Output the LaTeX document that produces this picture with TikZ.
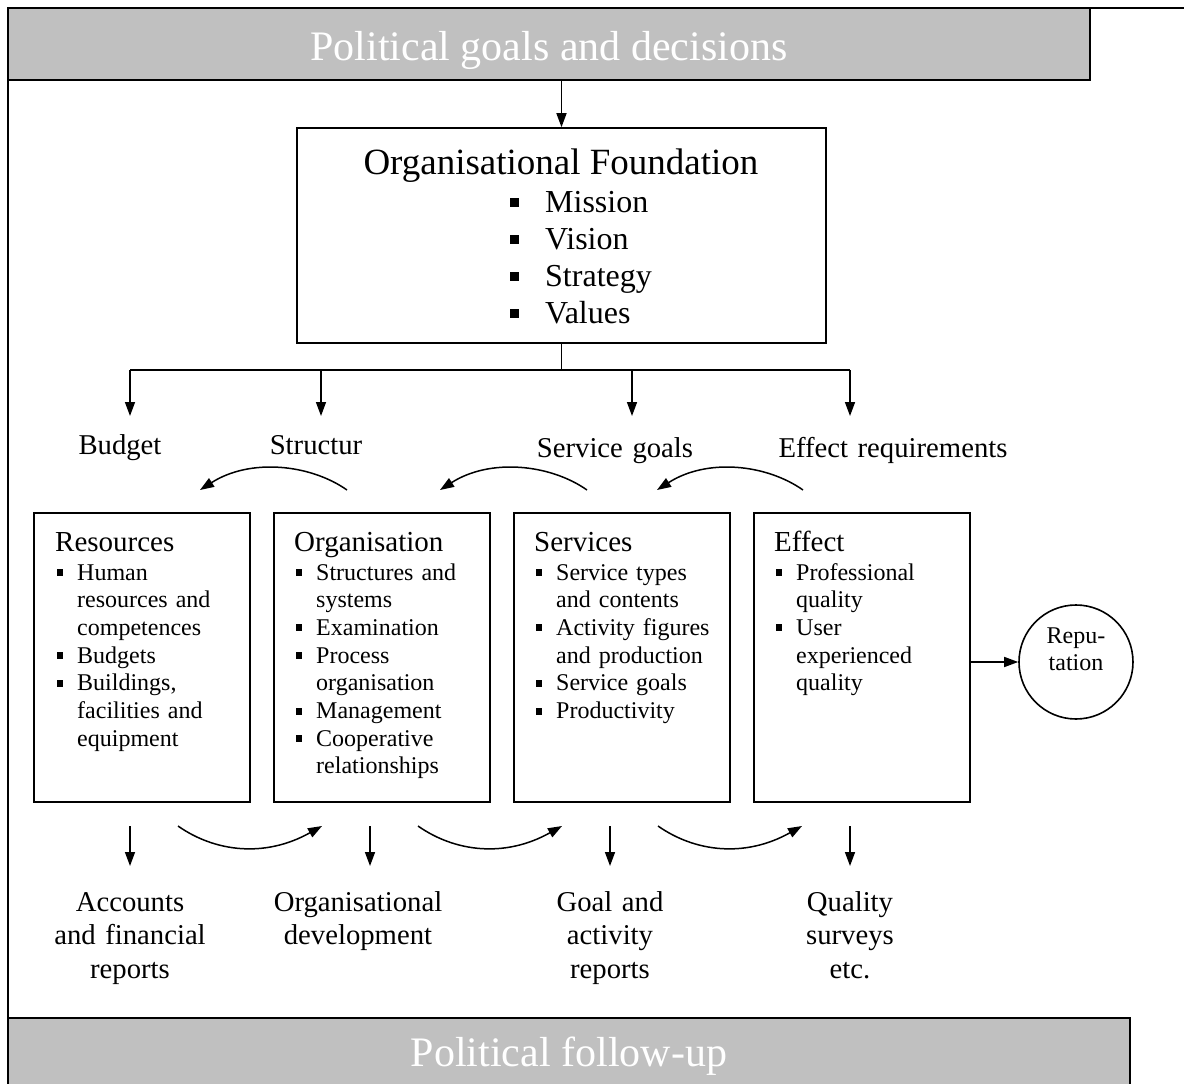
\documentclass[tikz,border=0pt]{standalone}
\usepackage{fontspec}
\setmainfont{Liberation Serif}
\usetikzlibrary{arrows.meta}
\definecolor{bannergray}{RGB}{192,192,192}
\newcommand{\bigbul}{\makebox[35pt][l]{\rule[4.7pt]{8.5pt}{9pt}}}
\newcommand{\smallbul}{\makebox[22pt][l]{\hspace{1.5pt}\rule[4pt]{6.5pt}{7pt}}}
\newcommand{\subind}{\hspace*{22pt}}
\newcommand{\boxhead}[1]{{\fontsize{29}{34}\selectfont #1}\\[1.3pt]}

\begin{document}
\begin{tikzpicture}[x=1pt, y=-1pt,
  banner/.style={draw=black, line width=1.6pt, fill=bannergray, text=white, font=\fontsize{42}{50}\selectfont},
  box/.style={draw=black, line width=1.6pt, minimum width=216pt, minimum height=289pt, inner sep=0pt},
  boxtext/.style={anchor=base west, text width=200pt, align=left, inner sep=0pt, font=\fontsize{24}{27.7}\selectfont},
  lbl/.style={anchor=base, text width=320pt, align=center, inner sep=0pt, font=\fontsize{28.7}{33.5}\selectfont},
  line/.style={line width=1.5pt},
  arr/.style={line width=1.5pt, -{Triangle[length=14pt,width=10pt]}}
]
  \useasboundingbox (0,0) rectangle (1184,1084);
  \clip (0,0) rectangle (1184,1084);

  % political banners and frame
  \node[banner, minimum width=1082pt, minimum height=72pt, text height=37pt, text depth=5pt] (goals) at (549,44) {Political goals and decisions};
  \node[banner, anchor=north, minimum width=1122pt, minimum height=76pt] (followup) at (569,1017) {Political follow-up};
  \draw[line width=2pt] (1184,8) -- (8,8) -- (8,1084);

  % organisational foundation
  \node[draw, line width=1.6pt, minimum width=529pt, minimum height=215pt] (found) at (561.5,235.5) {};
  \node[anchor=base, inner sep=0pt, font=\fontsize{37}{44}\selectfont] (foundtitle) at (561,174) {Organisational Foundation};
  \node[anchor=base west, text width=200pt, align=left, inner sep=0pt, font=\fontsize{32}{37}\selectfont] (foundlist) at (510,212)
    {\bigbul Mission\\ \bigbul Vision\\ \bigbul Strategy\\ \bigbul Values};
  \draw[arr] (found.north |- goals.south) -- (found.north);

  % branches to the four requirements
  \draw[line] (found.south) -- ++(0,27) coordinate (split);
  \coordinate (t1) at (130,370);
  \coordinate (t2) at (321,370);
  \coordinate (t3) at (632,370);
  \coordinate (t4) at (850,370);
  \draw[line] (t1) -- (t4);
  \draw[arr] (t1) -- ++(0,46);
  \draw[arr] (t2) -- ++(0,46);
  \draw[arr] (t3) -- ++(0,46);
  \draw[arr] (t4) -- ++(0,46);
  \node[lbl] (budget) at (120,454) {Budget};
  \node[lbl] (structur) at (316,454) {Structur};
  \node[lbl] (servgoals) at (615,457) {Service goals};
  \node[lbl] (effreq) at (893,457) {Effect requirements};

  % the four boxes
  \node[box] (res) at (142,657.5) {};
  \node[box] (org) at (382,657.5) {};
  \node[box] (serv) at (622,657.5) {};
  \node[box] (eff) at (862,657.5) {};
  \node[boxtext] (restext) at (55,551) {\boxhead{Resources}
    \smallbul Human\\ \subind resources and\\ \subind competences\\ \smallbul Budgets\\
    \smallbul Buildings,\\ \subind facilities and\\ \subind equipment};
  \node[boxtext] (orgtext) at (294,551) {\boxhead{Organisation}
    \smallbul Structures and\\ \subind systems\\ \smallbul Examination\\ \smallbul Process\\
    \subind organisation\\ \smallbul Management\\ \smallbul Cooperative\\ \subind relationships};
  \node[boxtext] (servtext) at (534,551) {\boxhead{Services}
    \smallbul Service types\\ \subind and contents\\ \smallbul Activity figures\\
    \subind and production\\ \smallbul Service goals\\ \smallbul Productivity};
  \node[boxtext] (efftext) at (774,551) {\boxhead{Effect}
    \smallbul Professional\\ \subind quality\\ \smallbul User\\ \subind experienced\\ \subind quality};

  % reputation
  \node[circle, draw, line width=1.6pt, minimum size=114pt] (rep) at (1076,662) {};
  \node[anchor=base, text width=100pt, align=center, inner sep=0pt, font=\fontsize{24}{27}\selectfont] (reptext) at (1076,643) {Repu-\\tation};
  \draw[arr] (eff.east |- rep.west) -- (rep.west);

  % feedback curves above the boxes
  \coordinate (ua1) at (347,490);
  \coordinate (ub1) at (200,490);
  \coordinate (ua2) at (587,490);
  \coordinate (ub2) at (440,490);
  \coordinate (ua3) at (803,490);
  \coordinate (ub3) at (657,490);
  \draw[arr] (ua1) .. controls (310,464) and (250,458) .. (ub1);
  \draw[arr] (ua2) .. controls (550,464) and (490,458) .. (ub2);
  \draw[arr] (ua3) .. controls (766,464) and (707,458) .. (ub3);

  % curves below the boxes
  \coordinate (la1) at (178,826);
  \coordinate (lb1) at (322,826);
  \coordinate (la2) at (418,826);
  \coordinate (lb2) at (562,826);
  \coordinate (la3) at (658,826);
  \coordinate (lb3) at (802,826);
  \draw[arr] (la1) .. controls (215,852) and (265,858) .. (lb1);
  \draw[arr] (la2) .. controls (455,852) and (505,858) .. (lb2);
  \draw[arr] (la3) .. controls (695,852) and (745,858) .. (lb3);

  % reports
  \coordinate (d1) at (130,826);
  \coordinate (d2) at (370,826);
  \coordinate (d3) at (610,826);
  \coordinate (d4) at (850,826);
  \draw[arr] (d1) -- ++(0,40);
  \draw[arr] (d2) -- ++(0,40);
  \draw[arr] (d3) -- ++(0,40);
  \draw[arr] (d4) -- ++(0,40);
  \node[lbl] (accounts) at (130,911) {Accounts\\and financial\\reports};
  \node[lbl] (orgdev) at (358,911) {Organisational\\development};
  \node[lbl] (goalrep) at (610,911) {Goal and\\activity\\reports};
  \node[lbl] (quality) at (850,911) {Quality\\surveys\\etc.};
\end{tikzpicture}
\end{document}
